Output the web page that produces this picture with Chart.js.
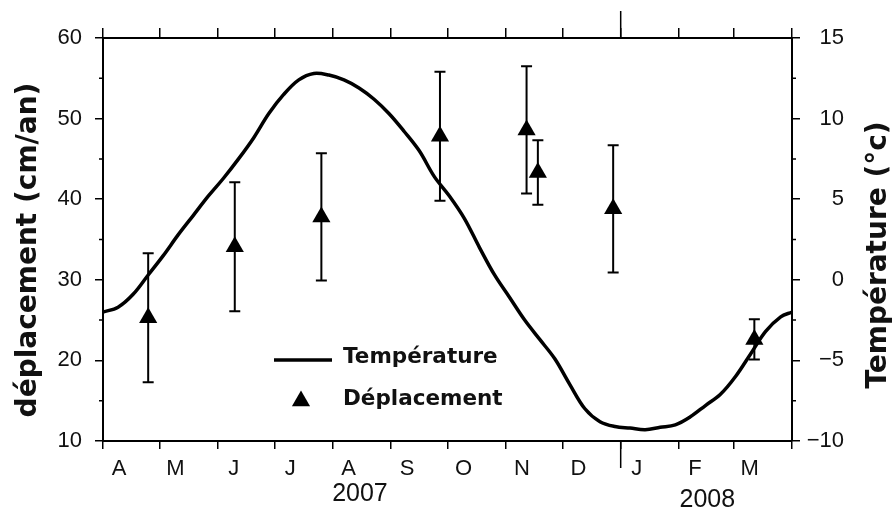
<!DOCTYPE html>
<html><head><meta charset="utf-8">
<script src="https://cdn.jsdelivr.net/npm/chart.js@4/dist/chart.umd.min.js"></script>
<style>html,body{margin:0;padding:0;background:#fff;overflow:hidden}</style>
</head><body>
<canvas id="c" width="893" height="511" style="width:893px;height:511px;display:block"></canvas>
<script>
// x axis: days since 1 April 2007
const monthStartDays = [0,30,61,91,122,153,183,214,244,275,306,335,366];
const monthLabels = ['A','M','J','J','A','S','O','N','D','J','F','M',''];
const yearLabels = ['2007','2008'];
const yearLabelDays = [136.5, 321];
const yearBoundaryDay = 275;
const leftMinorTicks = [15,25,35,45,55];
const rightMinorTicks = [-7.5,-2.5,2.5,7.5,12.5];

// Température (°C)
const tempDays = [0,8,16,24,32,40,48,56,64,72,80,88,96,104,112,120,128,136,144,152,160,168,176,184,192,200,208,216,224,232,240,248,256,264,272,280,288,296,304,312,320,328,336,344,352,360,366];
const tempValues = [-2.0,-1.7,-0.9,0.3,1.5,2.8,4.0,5.2,6.3,7.5,8.8,10.3,11.5,12.4,12.8,12.7,12.4,11.9,11.2,10.3,9.2,8.0,6.4,5.2,3.8,2.0,0.3,-1.1,-2.5,-3.7,-4.9,-6.5,-8.0,-8.8,-9.1,-9.2,-9.3,-9.15,-9.0,-8.5,-7.8,-7.1,-6.0,-4.6,-3.2,-2.3,-2.0];

// Déplacement (cm/an) with error
const dispDays = [24,70,116,179,225,231,271,346];
const dispValues = [25.3,34.1,37.8,47.8,48.6,43.3,38.8,22.6];
const dispErrors = [8.0,8.0,7.9,8.0,7.9,4.0,7.9,2.5];

const legendLabels = ['Température','Déplacement'];
const leftTitle = 'déplacement (cm/an)';
const rightTitle = 'Température (°c)';

const tickFont = {family:'Liberation Sans', size:22};
const INK = '#111';

const decor = {
  id:'decor',
  beforeDatasetsDraw(chart){
    const ctx = chart.ctx, x = chart.scales.x, y = chart.scales.y;
    ctx.save();
    ctx.strokeStyle = '#000'; ctx.lineWidth = 2;
    dispDays.forEach((d,i)=>{
      const px = x.getPixelForValue(d);
      const t = y.getPixelForValue(dispValues[i]+dispErrors[i]);
      const b = y.getPixelForValue(dispValues[i]-dispErrors[i]);
      ctx.beginPath();
      ctx.moveTo(px,t); ctx.lineTo(px,b);
      ctx.moveTo(px-5.5,t); ctx.lineTo(px+5.5,t);
      ctx.moveTo(px-5.5,b); ctx.lineTo(px+5.5,b);
      ctx.stroke();
    });
    ctx.restore();
  },
  afterDraw(chart){
    const ctx = chart.ctx, ca = chart.chartArea;
    const x = chart.scales.x, y = chart.scales.y, y2 = chart.scales.y2;
    ctx.save();
    ctx.strokeStyle = '#000'; ctx.lineWidth = 1.5;
    ctx.beginPath();
    leftMinorTicks.forEach(v=>{const p=y.getPixelForValue(v); ctx.moveTo(ca.left-4,p); ctx.lineTo(ca.left,p);});
    rightMinorTicks.forEach(v=>{const p=y2.getPixelForValue(v); ctx.moveTo(ca.right,p); ctx.lineTo(ca.right+4,p);});
    const bx = x.getPixelForValue(yearBoundaryDay);
    ctx.moveTo(bx, ca.bottom); ctx.lineTo(bx, ca.bottom+27);
    ctx.moveTo(bx, ca.top); ctx.lineTo(bx, ca.top-27);
    ctx.stroke();

    // year labels
    ctx.fillStyle = INK;
    ctx.font = '25px "Liberation Sans"';
    ctx.textAlign = 'center'; ctx.textBaseline = 'middle';
    ctx.fillText(yearLabels[0], x.getPixelForValue(yearLabelDays[0]), 494);
    ctx.fillText(yearLabels[1], x.getPixelForValue(yearLabelDays[1]), 500);

    // axis titles
    ctx.font = 'bold 28px "DejaVu Sans"';
    ctx.save(); ctx.translate(29,250); ctx.rotate(-Math.PI/2); ctx.fillText(leftTitle,0,0); ctx.restore();
    ctx.save(); ctx.translate(879,255); ctx.rotate(-Math.PI/2); ctx.fillText(rightTitle,0,0); ctx.restore();

    // legend
    ctx.lineWidth = 3.5;
    ctx.beginPath(); ctx.moveTo(274,360); ctx.lineTo(332,360); ctx.stroke();
    ctx.beginPath();
    const r = 10.5, cx = 301, cy = 401;
    ctx.moveTo(cx, cy-r); ctx.lineTo(cx+r*Math.sqrt(3)/2, cy+r/2); ctx.lineTo(cx-r*Math.sqrt(3)/2, cy+r/2); ctx.closePath();
    ctx.fillStyle = '#000'; ctx.fill();
    ctx.fillStyle = INK;
    ctx.font = 'bold 21.5px "DejaVu Sans"';
    ctx.textAlign = 'left'; ctx.textBaseline = 'alphabetic';
    ctx.fillText(legendLabels[0], 343, 363);
    ctx.fillText(legendLabels[1], 343, 405);
    ctx.restore();
  }
};

const monthTicks = s => { s.ticks = monthStartDays.map(v=>({value:v})); };
const gridCfg = len => ({drawOnChartArea:false, drawTicks:true, tickLength:len, color:'#000', lineWidth:1.5});
const borderCfg = {display:true, color:'#000', width:2};

new Chart(document.getElementById('c'), {
  type:'scatter',
  data:{
    datasets:[
      {
        label:legendLabels[1],
        data: dispDays.map((d,i)=>({x:d, y:dispValues[i]})),
        xAxisID:'x', yAxisID:'y',
        pointStyle:'triangle', pointRadius:10.5, pointHoverRadius:10.5,
        backgroundColor:'#000', borderColor:'#000', borderWidth:0
      },
      {
        type:'line',
        label:legendLabels[0],
        data: tempDays.map((d,i)=>({x:d, y:tempValues[i]})),
        xAxisID:'x', yAxisID:'y2',
        showLine:true, pointRadius:0, borderColor:'#000', borderWidth:3.5,
        tension:0.35, fill:false
      }
    ]
  },
  options:{
    responsive:false, animation:false,
    layout:{padding:{left:0, right:49, top:0, bottom:0}},
    plugins:{legend:{display:false}, tooltip:{enabled:false}},
    scales:{
      x:{type:'linear', position:'bottom', min:0, max:366,
        afterBuildTicks:monthTicks, afterFit:s=>{s.height=70;},
        ticks:{autoSkip:false, maxRotation:0, minRotation:0, labelOffset:16, padding:7, color:INK, font:tickFont,
          callback:(v,i)=>monthLabels[i] ?? ''},
        grid:gridCfg(8), border:borderCfg},
      x2:{type:'linear', position:'top', min:0, max:366,
        afterBuildTicks:monthTicks, afterFit:s=>{s.height=38;},
        ticks:{display:false}, grid:gridCfg(10), border:borderCfg},
      y:{type:'linear', position:'left', min:10, max:60,
        afterFit:s=>{s.width=103;},
        ticks:{stepSize:10, padding:13, color:INK, font:tickFont},
        grid:gridCfg(8), border:borderCfg},
      y2:{type:'linear', position:'right', min:-10, max:15,
        afterFit:s=>{s.width=52;},
        ticks:{stepSize:5, padding:10, crossAlign:'far', color:INK, font:tickFont,
          callback:v=> v<0 ? '\u2212'+Math.abs(v) : String(v)},
        grid:gridCfg(8), border:borderCfg}
    }
  },
  plugins:[decor]
});
</script>
</body></html>
